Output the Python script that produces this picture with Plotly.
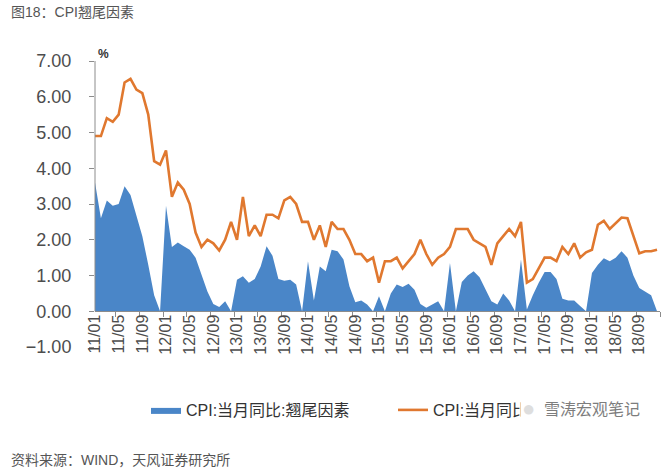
import plotly.graph_objects as go

# ---------------- data ----------------
months = [f"{y:02d}/{m:02d}" for y in range(11, 19) for m in range(1, 13)]

cpi_yoy = [
    4.9, 4.9, 5.4, 5.3, 5.5, 6.4, 6.5, 6.2, 6.1, 5.5, 4.2, 4.1,
    4.5, 3.2, 3.6, 3.4, 3.0, 2.2, 1.8, 2.0, 1.9, 1.7, 2.0, 2.5,
    2.0, 3.2, 2.1, 2.4, 2.1, 2.7, 2.7, 2.6, 3.1, 3.2, 3.0, 2.5,
    2.5, 2.0, 2.4, 1.8, 2.5, 2.3, 2.3, 2.0, 1.6, 1.6, 1.4, 1.5,
    0.8, 1.4, 1.4, 1.5, 1.2, 1.4, 1.6, 2.0, 1.6, 1.3, 1.5, 1.6,
    1.8, 2.3, 2.3, 2.3, 2.0, 1.9, 1.8, 1.3, 1.9, 2.1, 2.3, 2.1,
    2.5, 0.8, 0.9, 1.2, 1.5, 1.5, 1.4, 1.8, 1.6, 1.9, 1.5, 1.65,
    1.72, 2.42, 2.53, 2.3, 2.47, 2.62, 2.6, 2.1, 1.62, 1.68, 1.68, 1.72,
]

carryover = [
    3.6, 2.6, 3.1, 2.95, 3.0, 3.5, 3.25, 2.65, 2.1, 1.3, 0.45, 0.0,
    2.95, 1.8, 1.92, 1.82, 1.72, 1.5, 1.0, 0.55, 0.2, 0.12, 0.28, 0.0,
    0.88, 0.98, 0.8, 0.9, 1.25, 1.82, 1.55, 0.9, 0.85, 0.88, 0.75, 0.0,
    1.4, 0.3, 1.25, 1.12, 1.72, 1.68, 1.45, 0.7, 0.25, 0.3, 0.19, 0.0,
    0.42, 0.0, 0.5, 0.75, 0.68, 0.77, 0.6, 0.2, 0.1, 0.2, 0.28, 0.0,
    1.35, 0.0, 0.82, 1.0, 1.12, 0.95, 0.6, 0.28, 0.19, 0.5, 0.3, 0.0,
    1.45, 0.05, 0.45, 0.8, 1.1, 1.1, 0.9, 0.35, 0.3, 0.3, 0.15, 0.0,
    1.07, 1.3, 1.48, 1.4, 1.5, 1.68, 1.5, 1.0, 0.65, 0.55, 0.45, 0.0,
]

y_ticks = [-1, 0, 1, 2, 3, 4, 5, 6, 7]

name_area = "CPI:当月同比:翘尾因素"
name_line = "CPI:当月同比"

BLUE = "#4a86c8"
ORANGE = "#e0782f"
AXIS = "#8c8c8c"
TXT = "#4d4d4d"
CJK = "Arial, 'Liberation Sans', 'Noto Sans CJK SC', sans-serif"

# ---------------- layout geometry (pixels) ----------------
W, H = 669, 471
L, R, T, B = 95, 9, 61, 124
PW, PH = W - L - R, H - T - B


def px(x):
    return (x - L) / PW


def py(y):
    return (H - B - y) / PH


fig = go.Figure()
fig.add_trace(go.Scatter(
    x=months, y=carryover, name=name_area, mode="lines",
    line=dict(width=0, color=BLUE), fill="tozeroy", fillcolor=BLUE,
))
fig.add_trace(go.Scatter(
    x=months, y=cpi_yoy, name=name_line, mode="lines",
    line=dict(width=2.6, color=ORANGE),
))

fig.update_layout(
    width=W, height=H,
    margin=dict(l=L, r=R, t=T, b=B, autoexpand=False),
    paper_bgcolor="white", plot_bgcolor="white",
    font=dict(family=CJK, color=TXT),
    showlegend=True,
    legend=dict(
        orientation="h", x=px(146), y=py(410), xanchor="left", yanchor="middle",
        font=dict(size=16, family=CJK, color="#333333"),
        entrywidth=202, entrywidthmode="pixels", traceorder="normal",
        bgcolor="rgba(0,0,0,0)",
    ),
    xaxis=dict(
        type="category", range=[0, 95.5],
        tickmode="linear", tick0=0, dtick=4,
        tickson="boundaries", ticks="outside", ticklen=5, tickcolor=AXIS,
        tickangle=-90, tickfont=dict(size=16, color=TXT),
        ticklabelstandoff=-4,
        showline=True, linecolor=AXIS, linewidth=1,
        showgrid=False, zeroline=False,
        anchor="free", position=1 / 8,
    ),
    yaxis=dict(
        range=[-1, 7], tickmode="array", tickvals=y_ticks,
        tickformat=".2f", ticks="outside", ticklen=5, tickcolor=AXIS,
        tickfont=dict(size=18, color=TXT),
        ticklabelstandoff=14,
        showline=False, showgrid=False, zeroline=False,
    ),
)

# y axis line from 0 to 7
fig.add_shape(type="line", xref="paper", yref="y", x0=0, x1=0, y0=0, y1=7,
              line=dict(color=AXIS, width=1))

# title / source / unit
fig.add_annotation(text="图18：CPI翘尾因素", xref="paper", yref="paper",
                   x=px(9), y=py(12), xanchor="left", yanchor="middle",
                   showarrow=False, font=dict(size=14, color="#555555"))
fig.add_annotation(text="资料来源：WIND，天风证券研究所", xref="paper", yref="paper",
                   x=px(9), y=py(460), xanchor="left", yanchor="middle",
                   showarrow=False, font=dict(size=14, color="#555555"))
fig.add_annotation(text="<b>%</b>", xref="paper", yref="paper",
                   x=px(96), y=py(54), xanchor="left", yanchor="middle",
                   showarrow=False, font=dict(size=12, color="#333333"))

# watermark
fig.add_annotation(text="●", xref="paper", yref="paper",
                   x=px(528), y=py(409), xanchor="center", yanchor="middle",
                   showarrow=False, bgcolor="white",
                   font=dict(size=22, color="#dedede"))
fig.add_annotation(text="雪涛宏观笔记", xref="paper", yref="paper",
                   x=px(542), y=py(408), xanchor="left", yanchor="middle",
                   showarrow=False, font=dict(size=16, color="#7d7d7d",
                                              family="'Noto Sans CJK SC', sans-serif"))

fig.write_html("out.html", config={"displayModeBar": False},
               post_script="document.body.style.margin='0px';")
